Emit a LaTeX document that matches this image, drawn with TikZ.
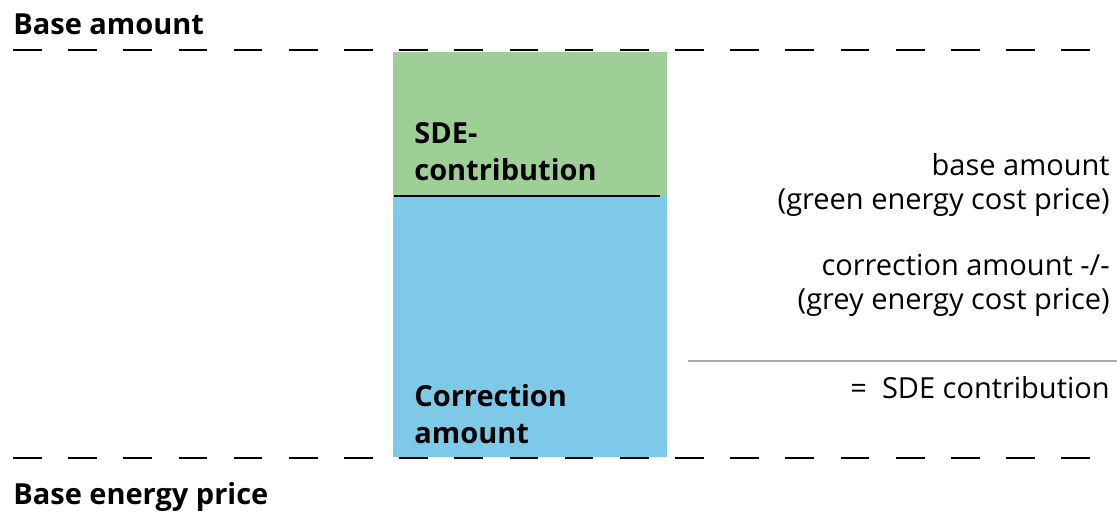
\documentclass[tikz,border=0pt]{standalone}
\usepackage{fontspec}
\setmainfont{Open Sans}
\definecolor{sdegreen}{HTML}{9ECF97}
\definecolor{corrblue}{HTML}{7EC8E8}
\definecolor{sumgrey}{HTML}{ABABAB}
\begin{document}
\begin{tikzpicture}[x=0.02cm,y=-0.02cm]
\tikzstyle{every node}=[inner sep=0pt];
\tikzstyle{level}=[line width=1.4pt,dash pattern=on 16.4pt off 15pt];
\tikzstyle{head}=[anchor=base west,font=\bfseries\fontsize{16.5}{21}\selectfont];
\tikzstyle{part}=[anchor=base west,align=left,font=\bfseries\fontsize{16.5}{21.3}\selectfont];
\tikzstyle{sum}=[anchor=base east,align=right,font=\fontsize{16.5}{19.8}\selectfont];
\useasboundingbox (0,0) rectangle (1117,513);

% bar
\fill[sdegreen] (393,52) rectangle (667,196);
\fill[corrblue] (393,196) rectangle (667,457);
\draw (394,196) coordinate (s1);
\draw (660,196) coordinate (s2);
\draw[line width=0.9pt] (s1) -- (s2);

% levels
\draw (13,50) coordinate (t1);
\draw (1110,50) coordinate (t2);
\draw (13,458) coordinate (b1);
\draw (1110,458) coordinate (b2);
\draw[level] (t1) -- (t2);
\draw[level] (b1) -- (b2);

\draw (13,35) node[head] (ba) {Base amount};
\draw (13,505) node[head] (bp) {Base energy price};

\draw (414,181) node[part] (sde) {SDE-\\contribution};
\draw (414,444) node[part] (corr) {Correction\\amount};

% sum on the right
\draw (1110,210) node[sum] (green) {base amount\\(green energy cost price)};
\draw (1110,310) node[sum] (grey) {correction amount -/-\\(grey energy cost price)};
\draw (688,361) coordinate (g1);
\draw (1117,361) coordinate (g2);
\draw[sumgrey,line width=1.1pt] (g1) -- (g2);
\draw (1110,399) node[sum] (total) {=\ \ SDE contribution};
\end{tikzpicture}
\end{document}
